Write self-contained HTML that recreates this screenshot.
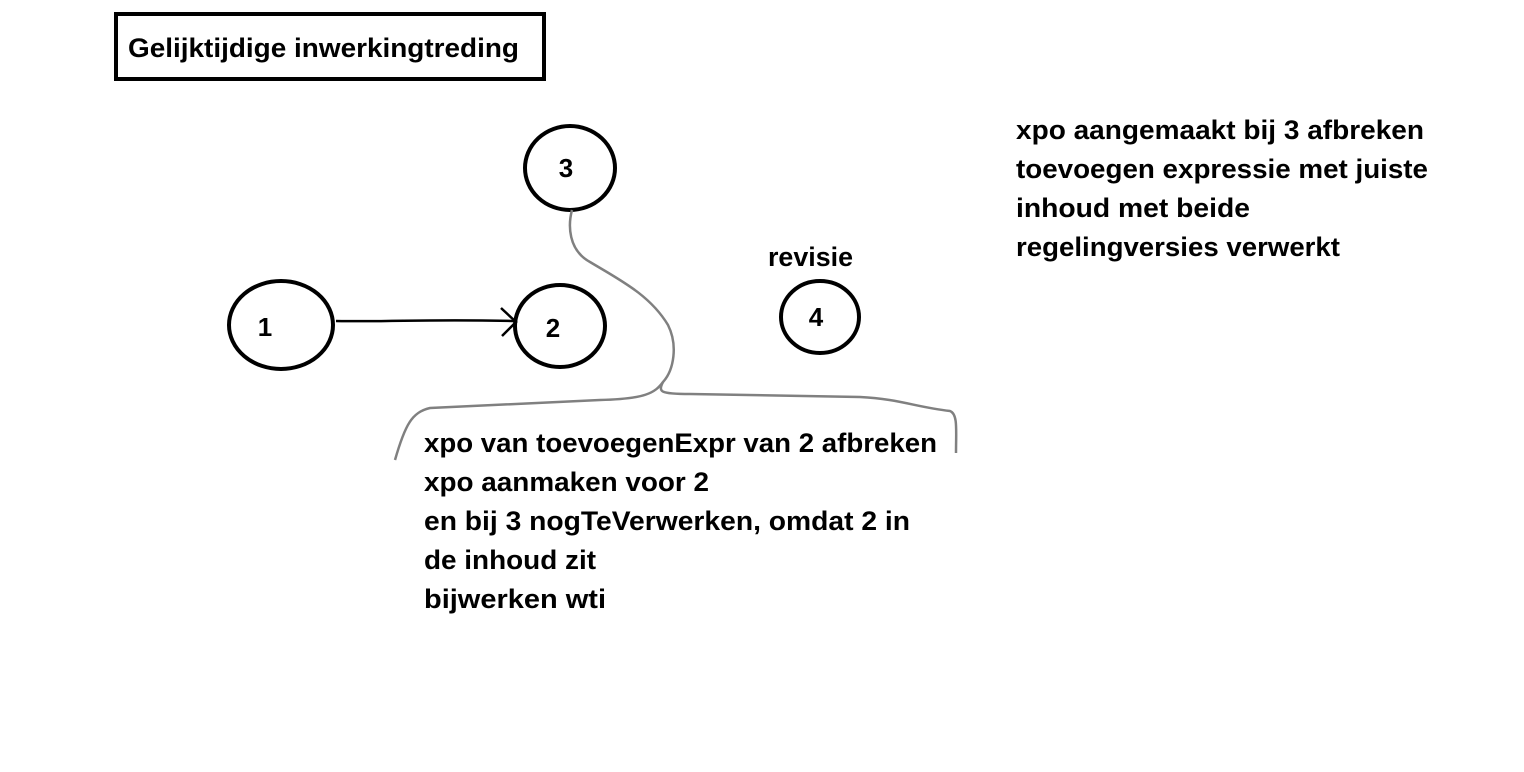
<!DOCTYPE html>
<html><head><meta charset="utf-8"><style>html,body{margin:0;padding:0;background:#fff}svg{display:block}</style></head>
<body>
<svg width="1524" height="772" viewBox="0 0 1524 772" xmlns="http://www.w3.org/2000/svg" font-family="Liberation Sans, sans-serif" font-weight="bold" font-size="27" fill="#000">
<rect x="116" y="14" width="428" height="65" fill="none" stroke="#000" stroke-width="4"/>
<text x="128" y="57" textLength="391" lengthAdjust="spacingAndGlyphs">Gelijktijdige inwerkingtreding</text>
<g fill="none" stroke="#000" stroke-width="4">
<ellipse cx="570" cy="168" rx="45" ry="42"/>
<ellipse cx="281" cy="325" rx="52" ry="44"/>
<ellipse cx="560" cy="326" rx="45" ry="41"/>
<ellipse cx="820" cy="317" rx="39" ry="36"/>
</g>
<g font-size="26" text-anchor="middle">
<text x="566" y="177">3</text>
<text x="265" y="336">1</text>
<text x="553" y="337">2</text>
<text x="816" y="326">4</text>
</g>
<path d="M336 321 C400 322 420 319 516 321" fill="none" stroke="#000" stroke-width="2.5"/>
<path d="M501 308 L516 322 L502 336" fill="none" stroke="#000" stroke-width="2.5"/>
<path d="M572 210 C568 225 568 250 590 262 C620 280 650 295 668 325 C678 345 674 370 663 382 C655 393 645 399 600 400 L430 408 C412 412 405 425 395 460" fill="none" stroke="#808080" stroke-width="2.5"/>
<path d="M663 382 C658 392 660 394 690 394 L860 397 C900 399 915 407 950 411 C958 414 956 430 956 453" fill="none" stroke="#808080" stroke-width="2.5"/>
<text x="768" y="266" textLength="85" lengthAdjust="spacingAndGlyphs">revisie</text>
<text x="1016" y="139" textLength="408" lengthAdjust="spacingAndGlyphs">xpo aangemaakt bij 3 afbreken</text>
<text x="1016" y="178" textLength="412" lengthAdjust="spacingAndGlyphs">toevoegen expressie met juiste</text>
<text x="1016" y="217" textLength="234" lengthAdjust="spacingAndGlyphs">inhoud met beide</text>
<text x="1016" y="256" textLength="324" lengthAdjust="spacingAndGlyphs">regelingversies verwerkt</text>
<text x="424" y="452" textLength="513" lengthAdjust="spacingAndGlyphs">xpo van toevoegenExpr van 2 afbreken</text>
<text x="424" y="491" textLength="285" lengthAdjust="spacingAndGlyphs">xpo aanmaken voor 2</text>
<text x="424" y="530" textLength="486" lengthAdjust="spacingAndGlyphs">en bij 3 nogTeVerwerken, omdat 2 in</text>
<text x="424" y="569" textLength="172" lengthAdjust="spacingAndGlyphs">de inhoud zit</text>
<text x="424" y="608" textLength="182" lengthAdjust="spacingAndGlyphs">bijwerken wti</text>
</svg>
</body></html>
